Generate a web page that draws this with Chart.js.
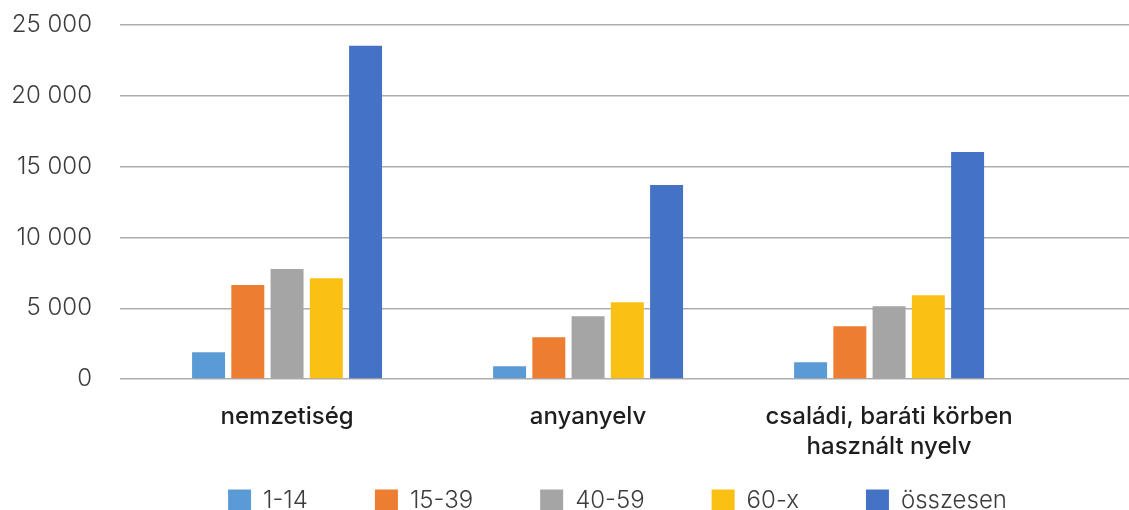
<!DOCTYPE html>
<html lang="hu">
<head>
<meta charset="utf-8">
<title>Nemzetiség, anyanyelv, használt nyelv korcsoportok szerint</title>
<script src="https://cdn.jsdelivr.net/npm/chart.js@4/dist/chart.umd.min.js"></script>
<style>
    html, body { margin: 0; padding: 0; background: #ffffff; }
    #chart { display: block; }
</style>
</head>
<body>
<canvas id="chart" width="1129" height="510"></canvas>
<script>
// Categories along the x axis (the last one wraps onto two lines)
const categories = ['nemzetiség', 'anyanyelv', ['családi, baráti körben', 'használt nyelv']];

// Values per age group
const age1to14 = [1890, 900, 1180];
const age15to39 = [6630, 2950, 3730];
const age40to59 = [7760, 4430, 5140];
const age60x = [7120, 5420, 5920];
const total = [23530, 13700, 16030];

const seriesNames = ['1-14', '15-39', '40-59', '60-x', 'összesen'];
const yTicks = [0, 5000, 10000, 15000, 20000, 25000];

const seriesValues = [age1to14, age15to39, age40to59, age60x, total];
const seriesColors = ['#5B9BD5', '#ED7D31', '#A5A5A5', '#FAC013', '#4472C4'];

// x range in category units: a bit of room left of the first group,
// the plot runs on to the right edge of the canvas
const xMin = -0.555;
const xMax = 2.797;

// Thousands separated by a space: 25000 -> "25 000"
const formatNumber = v => String(v).replace(/\B(?=(\d{3})+(?!\d))/g, ' ');

// Put the legend under the plot area, centred on it
const legendPlacement = {
    id: 'legendPlacement',
    afterLayout(chart) {
        const lg = chart.legend;
        const area = chart.chartArea;
        lg.left = area.left - 7;
        lg.right = area.right - 7;
        lg.top = 422;
        lg.bottom = chart.height;
        lg.width = lg.right - lg.left;
        lg.height = lg.bottom - lg.top;
    }
};

Chart.defaults.font.family = 'Inter, "Liberation Sans", sans-serif';

const datasets = seriesNames.map((name, s) => ({
    label: name,
    data: seriesValues[s].map((v, i) => ({ x: i, y: v })),
    backgroundColor: seriesColors[s],
    borderWidth: 0,
    categoryPercentage: 0.652,
    barPercentage: 0.84
}));

new Chart(document.getElementById('chart').getContext('2d'), {
    type: 'bar',
    data: { datasets: datasets },
    plugins: [legendPlacement],
    options: {
        responsive: false,
        animation: false,
        layout: { padding: { top: 25, right: 0, bottom: 0, left: 0 } },
        scales: {
            x: {
                type: 'linear',
                offset: false,
                bounds: 'data',
                min: xMin,
                max: xMax,
                grid: { display: false, offset: false },
                border: { display: false },
                afterBuildTicks: scale => {
                    scale.ticks = categories.map((c, i) => ({ value: i }));
                    scale.min = xMin;
                    scale.max = xMax;
                },
                afterFit: scale => {
                    scale.height = 130;
                },
                ticks: {
                    autoSkip: false,
                    includeBounds: false,
                    maxRotation: 0,
                    padding: 15,
                    color: '#1e1e1e',
                    font: { size: 24, weight: 500, lineHeight: 1.25 },
                    callback: value => categories[value]
                }
            },
            y: {
                min: 0,
                max: 25000,
                afterBuildTicks: scale => {
                    scale.ticks = yTicks.map(v => ({ value: v }));
                    scale.min = 0;
                    scale.max = 25000;
                },
                afterFit: scale => {
                    scale.width = 120;
                    // labels may stick out above and below the plot
                    scale.paddingTop = 0;
                    scale.paddingBottom = 0;
                },
                grid: {
                    color: '#ADADAD',
                    lineWidth: 1.4,
                    drawTicks: false
                },
                border: { display: false },
                ticks: {
                    padding: 28,
                    color: '#3c3c3c',
                    font: { size: 24, weight: 300 },
                    callback: value => formatNumber(value)
                }
            }
        },
        plugins: {
            tooltip: { enabled: false },
            legend: {
                position: 'bottom',
                maxHeight: 1,
                labels: {
                    boxWidth: 23,
                    boxHeight: 23,
                    padding: 67,
                    color: '#3c3c3c',
                    font: { size: 24, weight: 300 }
                }
            }
        }
    }
});
</script>
</body>
</html>
